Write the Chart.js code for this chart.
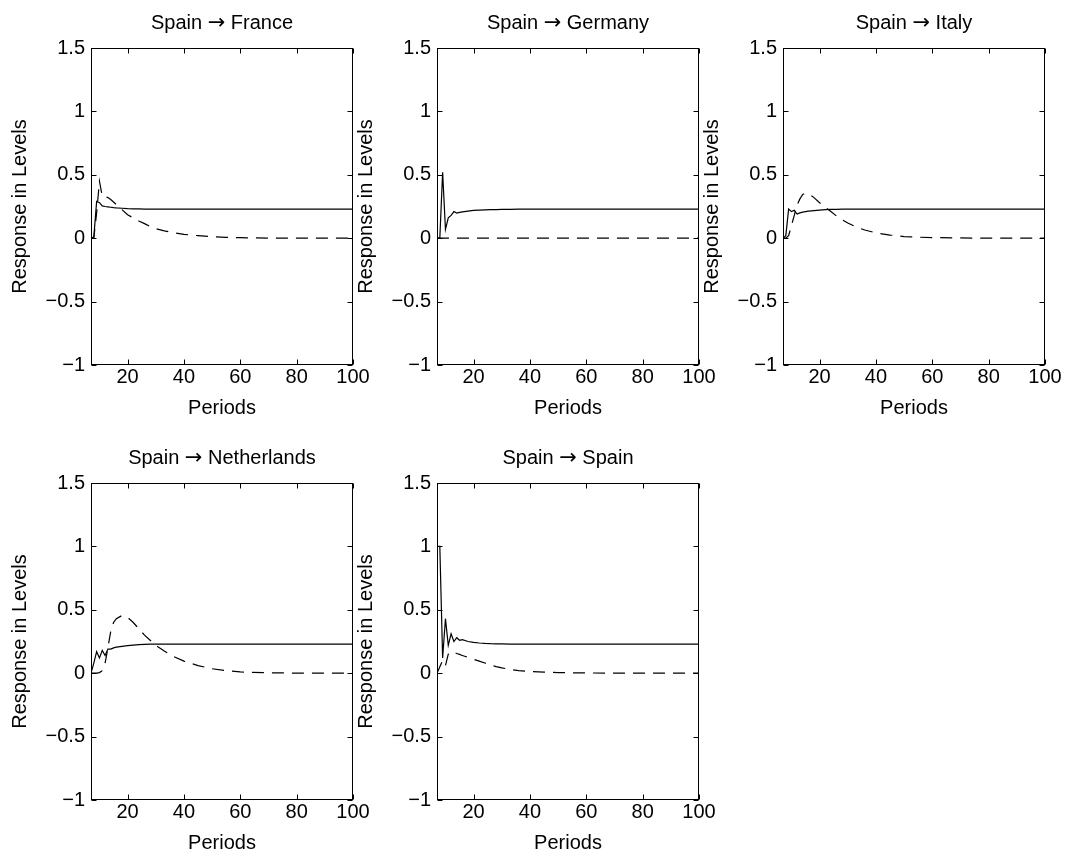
<!DOCTYPE html>
<html>
<head>
<meta charset="utf-8">
<script src="https://cdn.jsdelivr.net/npm/chart.js"></script>
<style>
  html, body { margin: 0; padding: 0; background: #fff; overflow: hidden; }
  .panel { position: absolute; width: 374px; height: 425px; }
</style>
</head>
<body>
<div class="panel" style="left:-1px;top:0px"><canvas id="c0"></canvas></div>
<div class="panel" style="left:345px;top:0px"><canvas id="c1"></canvas></div>
<div class="panel" style="left:691px;top:0px"><canvas id="c2"></canvas></div>
<div class="panel" style="left:-1px;top:435px"><canvas id="c3"></canvas></div>
<div class="panel" style="left:345px;top:435px"><canvas id="c4"></canvas></div>

<script>
  const periods = [7, 8, 9, 10, 11, 12, 13, 14, 15, 16, 18, 20, 22, 24, 26, 28, 30, 33, 36, 40, 45, 50, 55, 60, 70, 80, 90, 100];

  const franceSolid  = [0, 0.01, 0.29, 0.28, 0.255, 0.25, 0.247, 0.244, 0.241, 0.239, 0.236, 0.233, 0.232, 0.231, 0.23, 0.23, 0.23, 0.23, 0.23, 0.23, 0.23, 0.23, 0.23, 0.23, 0.23, 0.23, 0.23, 0.23];
  const franceDashed = [0, 0, 0.2, 0.45, 0.33, 0.33, 0.32, 0.305, 0.285, 0.265, 0.225, 0.185, 0.16, 0.135, 0.115, 0.092, 0.075, 0.058, 0.045, 0.03, 0.02, 0.012, 0.007, 0.004, 0.001, 0, 0, 0];

  const germanySolid  = [0, 0, 0.52, 0.07, 0.16, 0.18, 0.21, 0.198, 0.204, 0.208, 0.214, 0.219, 0.222, 0.224, 0.225, 0.226, 0.227, 0.228, 0.229, 0.23, 0.23, 0.23, 0.23, 0.23, 0.23, 0.23, 0.23, 0.23];
  const germanyDashed = [0, 0, 0, 0, 0, 0, 0, 0, 0, 0, 0, 0, 0, 0, 0, 0, 0, 0, 0, 0, 0, 0, 0, 0, 0, 0, 0, 0];

  const italySolid  = [0, 0.02, 0.23, 0.21, 0.22, 0.19, 0.2, 0.205, 0.21, 0.213, 0.218, 0.222, 0.225, 0.227, 0.228, 0.229, 0.23, 0.23, 0.23, 0.23, 0.23, 0.23, 0.23, 0.23, 0.23, 0.23, 0.23, 0.23];
  const italyDashed = [0, 0, 0.02, 0.1, 0.18, 0.26, 0.31, 0.345, 0.355, 0.35, 0.32, 0.28, 0.245, 0.21, 0.175, 0.145, 0.12, 0.088, 0.065, 0.042, 0.025, 0.013, 0.008, 0.005, 0.002, 0, 0, 0];

  const netherlandsSolid  = [0, 0.08, 0.17, 0.12, 0.18, 0.14, 0.19, 0.19, 0.2, 0.205, 0.212, 0.218, 0.222, 0.225, 0.227, 0.229, 0.23, 0.23, 0.23, 0.23, 0.23, 0.23, 0.23, 0.23, 0.23, 0.23, 0.23, 0.23];
  const netherlandsDashed = [0, 0, 0, 0.005, 0.02, 0.08, 0.2, 0.33, 0.4, 0.43, 0.455, 0.44, 0.4, 0.35, 0.3, 0.26, 0.22, 0.175, 0.135, 0.095, 0.06, 0.035, 0.02, 0.01, 0.003, 0.001, 0, 0];

  const spainSolid  = [1.0, 1.0, 0.12, 0.43, 0.22, 0.31, 0.25, 0.28, 0.26, 0.265, 0.25, 0.243, 0.238, 0.235, 0.233, 0.232, 0.231, 0.23, 0.23, 0.23, 0.23, 0.23, 0.23, 0.23, 0.23, 0.23, 0.23, 0.23];
  const spainDashed = [0, 0.05, 0.1, 0.06, 0.15, 0.17, 0.165, 0.155, 0.148, 0.14, 0.125, 0.11, 0.095, 0.08, 0.065, 0.052, 0.042, 0.03, 0.02, 0.013, 0.008, 0.005, 0.003, 0.002, 0, 0, 0, 0];

  const xTicks = [20, 40, 60, 80, 100];
  const yTicks = [-1, -0.5, 0, 0.5, 1, 1.5];

  const panels = [
    { id: 'c0', from: 'Spain', to: 'France', solid: franceSolid, dashed: franceDashed },
    { id: 'c1', from: 'Spain', to: 'Germany', solid: germanySolid, dashed: germanyDashed },
    { id: 'c2', from: 'Spain', to: 'Italy', solid: italySolid, dashed: italyDashed },
    { id: 'c3', from: 'Spain', to: 'Netherlands', solid: netherlandsSolid, dashed: netherlandsDashed },
    { id: 'c4', from: 'Spain', to: 'Spain', solid: spainSolid, dashed: spainDashed }
  ];

  const FONT = '"Liberation Sans", Arial, Helvetica, sans-serif';
  Chart.defaults.font.family = FONT;
  Chart.defaults.font.size = 20;
  Chart.defaults.color = '#000';

  const fmt = v => v < 0 ? '\u2212' + Math.abs(v) : String(v);

  // matlab-ish box with inward ticks on all four sides
  const boxPlugin = {
    id: 'box',
    afterDatasetsDraw(chart) {
      const { ctx, chartArea: a, scales: { x, y } } = chart;
      const L = Math.round(a.left) + 0.5, R = Math.round(a.right) - 0.5;
      const T = Math.round(a.top) + 0.5, B = Math.round(a.bottom) - 0.5;
      ctx.save();
      ctx.strokeStyle = '#000';
      ctx.lineWidth = 1;
      ctx.strokeRect(L, T, R - L, B - T);
      ctx.beginPath();
      xTicks.forEach(v => {
        const px = Math.round(x.getPixelForValue(v)) + 0.5;
        ctx.moveTo(px, B); ctx.lineTo(px, B - 5);
        ctx.moveTo(px, T); ctx.lineTo(px, T + 5);
      });
      yTicks.forEach(v => {
        const py = Math.round(y.getPixelForValue(v)) + 0.5;
        ctx.moveTo(L, py); ctx.lineTo(L + 5, py);
        ctx.moveTo(R, py); ctx.lineTo(R - 5, py);
      });
      ctx.stroke();
      ctx.restore();
    }
  };

  // title centred over the axes, arrow taken from DejaVu like the tex arrow
  const titlePlugin = {
    id: 'panelTitle',
    afterDraw(chart, args, opts) {
      const { ctx, chartArea: a } = chart;
      const parts = [
        { t: opts.from + ' ', f: '20px ' + FONT },
        { t: '\u2192', f: '21px "DejaVu Sans", sans-serif' },
        { t: ' ' + opts.to, f: '20px ' + FONT }
      ];
      ctx.save();
      ctx.fillStyle = '#000';
      ctx.textBaseline = 'alphabetic';
      let w = 0;
      parts.forEach(p => { ctx.font = p.f; p.w = ctx.measureText(p.t).width; w += p.w; });
      let xx = (a.left + a.right) / 2 - w / 2;
      const yy = a.top - 19;
      parts.forEach(p => { ctx.font = p.f; ctx.fillText(p.t, xx, yy); xx += p.w; });
      ctx.restore();
    }
  };

  panels.forEach(p => {
    new Chart(document.getElementById(p.id), {
      type: 'line',
      data: {
        datasets: [
          {
            data: periods.map((t, i) => ({ x: t, y: p.solid[i] })),
            borderColor: '#000', borderWidth: 1.2, pointRadius: 0, tension: 0
          },
          {
            data: periods.map((t, i) => ({ x: t, y: p.dashed[i] })),
            borderColor: '#000', borderWidth: 1.2, borderDash: [12, 8], pointRadius: 0, tension: 0
          }
        ]
      },
      options: {
        responsive: true,
        maintainAspectRatio: false,
        animation: false,
        events: [],
        layout: { padding: { left: 0, top: 48, right: 20, bottom: 0 } },
        plugins: {
          legend: { display: false },
          tooltip: { enabled: false },
          title: { display: false },
          panelTitle: { from: p.from, to: p.to }
        },
        scales: {
          x: {
            type: 'linear', min: 7, max: 100,
            afterBuildTicks: s => { s.ticks = xTicks.map(v => ({ value: v })); },
            afterFit: s => { s.height = 60; },
            grid: { display: false, drawTicks: false },
            border: { display: false },
            ticks: { padding: 0, maxRotation: 0, autoSkip: false, callback: v => fmt(v) },
            title: { display: true, text: 'Periods', padding: { top: 0, bottom: 5 } }
          },
          y: {
            min: -1, max: 1.5,
            afterBuildTicks: s => { s.ticks = yTicks.map(v => ({ value: v })); },
            afterFit: s => { s.width = 92; },
            grid: { display: false, drawTicks: false },
            border: { display: false },
            ticks: { padding: 6, autoSkip: false, callback: v => fmt(v) },
            title: { display: true, text: 'Response in Levels', padding: { top: 9, bottom: 0 } }
          }
        }
      },
      plugins: [boxPlugin, titlePlugin]
    });
  });
</script>
</body>
</html>
